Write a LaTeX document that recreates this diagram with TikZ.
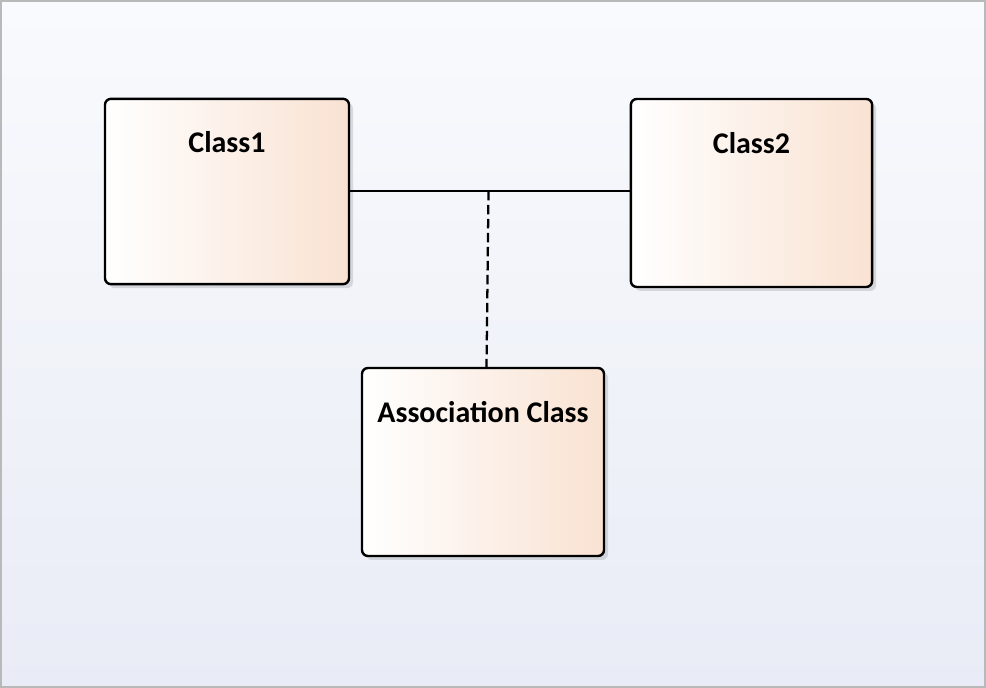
\documentclass[tikz,border=0pt]{standalone}
\usepackage{fontspec}
\setmainfont{Carlito}
\usetikzlibrary{shadows}

\definecolor{peach}{HTML}{F9E2D2}
\definecolor{bgtop}{HTML}{F9FAFD}
\definecolor{bgbot}{HTML}{E9ECF6}
\definecolor{frame}{HTML}{B9B9B9}

\tikzstyle{classbox} = [draw=black, line width=1.8pt, rectangle,
    rounded corners=4.5pt, left color=white, right color=peach,
    drop shadow={shadow xshift=3pt, shadow yshift=-3pt, opacity=0.25},
    inner sep=0pt]
\tikzstyle{classname} = [anchor=base, font=\fontsize{22.5}{27}\selectfont\bfseries]
\tikzstyle{assoc} = [draw=black, line width=1.7pt]

\begin{document}
\begin{tikzpicture}[x=0.75pt, y=0.75pt]
\fill[top color=bgtop, bottom color=bgbot, draw=frame, line width=1.5pt]
    (1,1) rectangle (985,687);
\useasboundingbox (0,0) rectangle (986,688);
\node [classbox, minimum width=183pt, minimum height=139pt] (class1) at (227,496.5) {};
\node [classbox, minimum width=181pt, minimum height=141pt] (class2) at (751.5,495) {};
\node [classbox, minimum width=181.5pt, minimum height=141pt] (assocclass) at (483,226) {};
\node [classname] (class1name) at ([yshift=-41.5pt]class1.north) {Class1};
\node [classname] (class2name) at ([yshift=-41.5pt]class2.north) {Class2};
\node [classname] (assocname) at ([yshift=-41.5pt]assocclass.north) {Association Class};
% association and its class
\draw [assoc] (class1.east |- 0,497) -- coordinate[pos=0.495] (mid) (class2.west |- 0,497);
\draw [assoc, dash pattern=on 7pt off 3.5pt] (mid) -- ([xshift=-1.5pt]mid |- assocclass.north);
\end{tikzpicture}
\end{document}
